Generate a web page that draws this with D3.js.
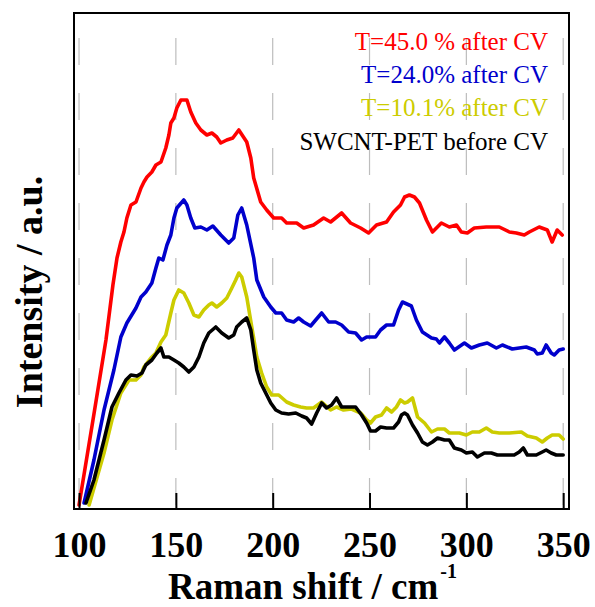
<!DOCTYPE html>
<html>
<head>
<meta charset="utf-8">
<script src="https://cdn.jsdelivr.net/npm/d3@7"></script>
<style>
  html, body { margin: 0; padding: 0; background: #fff; }
  svg { display: block; }
  text { font-family: "Liberation Serif", "Times New Roman", serif; }
</style>
</head>
<body>
<svg id="chart" width="595" height="607"></svg>
<script>
// Raman shift (cm^-1) and intensity (a.u.)
const redShift = [100.0,107.2,113.9,117.5,119.6,121.6,123.2,124.7,126.8,129.4,132.0,133.5,135.1,137.6,139.7,142.3,144.8,146.4,147.4,149.0,150.5,152.6,155.7,157.7,160.3,162.9,166.0,168.6,171.1,173.2,176.3,179.4,182.5,186.6,188.7,190.2,193.8,196.9,200.5,204.6,207.2,212.4,216.0,221.1,226.3,229.9,235.6,240.2,245.4,249.5,253.6,258.8,262.4,266.0,268.1,270.6,273.2,275.8,279.4,282.5,287.1,291.2,294.9,297.4,300.5,304.1,310.3,317.0,322.2,325.8,329.9,332.5,337.6,341.8,344.3,346.9,349.5];
const redInt = [0.8,17.8,33.8,44.8,50.2,53.4,55.4,58.2,60.8,61.4,64.2,65.4,66.4,67.4,68.8,69.4,72.2,74.8,77.2,78.2,80.2,81.8,81.8,79.4,77.2,75.8,74.8,75.2,74.4,73.2,73.8,74.2,75.8,73.4,70.2,66.2,61.4,59.8,58.2,58.2,57.2,57.2,56.2,56.8,58.2,57.4,59.2,57.2,56.2,55.2,56.8,57.4,59.4,60.8,62.4,62.8,62.4,61.2,57.8,55.4,57.2,56.4,56.8,55.4,55.2,56.2,56.4,56.4,55.4,55.2,54.8,55.4,56.4,55.8,53.4,55.8,54.8];

const blueShift = [102.6,107.7,112.9,118.0,121.6,124.7,129.4,132.0,134.5,137.6,139.7,141.2,143.3,145.4,147.4,149.0,150.5,154.1,155.7,157.7,159.8,162.9,166.0,169.1,173.2,177.3,179.9,182.0,184.0,186.6,190.2,191.8,195.4,199.0,201.6,204.6,207.2,210.8,213.4,216.0,219.6,222.2,225.3,228.9,232.5,235.6,239.2,242.8,245.9,248.5,253.1,255.7,258.8,262.4,265.0,267.0,271.6,274.2,277.3,282.0,284.5,286.1,288.7,291.2,293.8,299.0,302.6,306.7,310.8,315.5,318.6,323.7,330.9,335.1,336.6,339.2,341.2,343.8,345.4,347.9,350.0];
const blueInt = [1.2,9.8,19.8,27.8,34.4,37.2,40.2,42.4,43.4,45.2,48.2,50.2,49.8,52.8,54.8,58.2,60.2,61.8,60.8,58.2,56.2,56.4,55.8,56.6,54.8,53.2,54.2,58.8,60.2,56.8,50.2,45.8,42.4,40.4,39.2,39.2,37.8,37.4,38.2,37.4,36.6,37.8,39.2,37.4,37.4,36.8,35.4,35.2,33.8,34.4,34.4,35.8,36.8,36.8,39.8,41.4,40.6,37.8,35.4,34.2,34.0,33.2,34.4,33.2,31.8,33.2,32.2,32.8,33.2,32.2,32.8,32.0,32.4,31.8,31.0,31.2,32.8,31.2,30.8,31.8,32.0];

const yellowShift = [105.2,112.9,117.0,121.6,123.2,125.8,129.4,132.0,133.5,137.1,139.7,142.3,144.8,147.4,149.0,151.5,154.1,156.7,159.3,161.9,164.4,167.0,168.6,171.1,173.7,176.3,178.9,180.9,182.5,184.0,186.6,189.2,191.8,194.3,196.9,199.5,203.1,207.2,210.8,214.4,217.5,221.1,225.3,229.9,233.0,236.6,240.7,245.4,248.5,250.5,253.1,256.2,258.8,261.4,263.9,266.0,268.1,269.6,272.2,274.8,278.4,282.0,285.1,288.7,291.2,296.4,300.0,303.1,306.7,310.3,313.4,317.0,322.2,328.4,331.5,336.1,339.2,341.8,344.3,347.9,350.0];
const yellowInt = [0.8,11.2,17.8,23.2,24.2,25.8,25.8,26.8,28.4,30.2,31.2,33.4,34.8,39.2,41.8,43.8,43.2,41.2,38.8,38.4,39.8,40.8,41.2,40.4,41.2,42.2,44.2,45.8,47.2,46.4,42.4,36.4,30.4,27.2,24.4,22.8,22.8,21.4,20.8,20.4,20.2,20.2,21.4,19.8,20.4,19.8,20.0,19.2,17.8,17.2,18.4,18.8,20.2,19.4,20.4,21.8,21.2,21.4,22.2,18.4,17.2,15.4,16.0,16.0,15.2,15.2,14.8,15.4,15.4,16.2,15.4,15.2,15.2,15.4,14.6,14.2,13.4,14.2,14.8,14.8,14.0];

const blackShift = [103.6,107.7,112.9,117.0,120.6,124.2,126.8,129.9,132.5,134.5,137.6,140.2,142.3,143.8,146.4,149.0,151.5,154.1,156.7,159.3,161.9,164.4,167.0,170.6,173.7,177.3,179.9,181.4,184.0,186.6,188.7,190.2,191.8,193.8,196.4,199.0,201.6,204.6,208.2,211.9,215.0,217.5,220.1,222.7,225.3,227.8,230.4,233.0,235.6,239.2,242.8,245.9,248.5,250.5,253.1,255.7,258.8,262.4,265.0,266.5,268.1,269.6,272.2,274.8,277.3,279.9,282.5,285.1,288.7,291.2,293.8,297.4,300.0,303.1,305.7,309.3,312.9,316.0,320.6,324.7,327.3,329.4,331.5,336.1,339.2,341.2,343.8,346.4,350.0];
const blackInt = [1.2,5.8,13.8,20.4,23.2,25.8,26.8,26.6,27.2,28.8,29.8,31.2,32.2,30.4,30.4,29.8,29.2,28.4,27.4,28.4,30.4,33.2,35.2,36.4,35.2,34.2,34.8,36.4,37.4,38.2,35.8,31.8,27.8,25.2,23.2,21.2,19.8,19.2,19.0,19.2,18.6,18.2,17.0,19.2,21.2,20.2,20.8,22.2,20.4,20.4,20.4,18.8,17.2,15.6,15.6,16.4,16.2,16.2,17.4,18.8,19.2,18.8,16.8,15.2,13.4,12.8,13.4,14.2,13.8,13.8,12.2,11.8,11.2,11.4,10.4,11.2,11.2,10.8,10.8,10.8,11.4,12.2,10.8,10.8,11.4,11.8,11.2,10.8,10.8];

const legendLabels = ["T=45.0 % after CV", "T=24.0% after CV", "T=10.1% after CV", "SWCNT-PET before CV"];
const seriesColors = ["#ff0000", "#0000cc", "#cccc00", "#000000"];
const xTicks = [100, 150, 200, 250, 300, 350];

const svg = d3.select("#chart");
const margin = { left: 74, top: 13, right: 569, bottom: 509 };

const x = d3.scaleLinear().domain([97.4, 353]).range([margin.left, margin.right]);
const y = d3.scaleLinear().domain([0, 99.2]).range([margin.bottom, margin.top]);

svg.append("defs").append("clipPath").attr("id", "clip")
  .append("rect").attr("x", margin.left).attr("y", margin.top)
  .attr("width", margin.right - margin.left).attr("height", margin.bottom - margin.top);

// dashed vertical grid
svg.append("g").selectAll("line").data(xTicks).join("line")
  .attr("x1", d => x(d)).attr("x2", d => x(d))
  .attr("y1", 38).attr("y2", margin.bottom)
  .attr("stroke", "#bdbdbd").attr("stroke-width", 1.2)
  .attr("stroke-dasharray", "27,28");

// series
const series = [
  [redShift, redInt],
  [blueShift, blueInt],
  [yellowShift, yellowInt],
  [blackShift, blackInt]
];
const line = d3.line().x(d => x(d[0])).y(d => y(d[1]));
const g = svg.append("g").attr("clip-path", "url(#clip)");
series.forEach((s, i) => {
  const pts = s[0].map((v, k) => [v, s[1][k]]);
  g.append("path").datum(pts)
    .attr("d", line)
    .attr("fill", "none")
    .attr("stroke", seriesColors[i])
    .attr("stroke-width", 3.6)
    .attr("stroke-linejoin", "round")
    .attr("stroke-linecap", "round");
});

// bottom axis with inward ticks
const xAxis = d3.axisBottom(x).tickValues(xTicks).tickSize(-16).tickPadding(22).tickFormat(d3.format("d"));
const ax = svg.append("g").attr("transform", `translate(0,${margin.bottom})`).call(xAxis);
ax.select(".domain").remove();
ax.selectAll(".tick line").attr("stroke", "#000").attr("stroke-width", 2);
ax.selectAll(".tick text")
  .attr("fill", "#000")
  .attr("font-family", "'Liberation Serif', 'Times New Roman', serif")
  .attr("font-weight", "bold")
  .attr("font-size", 36);

// frame
svg.append("rect")
  .attr("x", margin.left).attr("y", margin.top)
  .attr("width", margin.right - margin.left).attr("height", margin.bottom - margin.top)
  .attr("fill", "none").attr("stroke", "#000").attr("stroke-width", 2);

// legend text
const legendY = [50, 83, 116, 150];
svg.append("g").selectAll("text").data(legendLabels).join("text")
  .attr("x", 548).attr("y", (d, i) => legendY[i])
  .attr("text-anchor", "end")
  .attr("font-size", 25)
  .attr("fill", (d, i) => seriesColors[i])
  .text(d => d);

// axis titles
const xt = svg.append("text")
  .attr("x", 168).attr("y", 599)
  .attr("font-size", 37).attr("font-weight", "bold").attr("fill", "#000");
xt.append("tspan").text("Raman shift / cm");
xt.append("tspan").attr("font-size", 20).attr("dx", 2).attr("dy", -21).text("-1");

svg.append("text")
  .attr("transform", "translate(42,292) rotate(-90)")
  .attr("text-anchor", "middle")
  .attr("font-size", 38).attr("font-weight", "bold").attr("fill", "#000")
  .text("Intensity / a.u.");
</script>
</body>
</html>
